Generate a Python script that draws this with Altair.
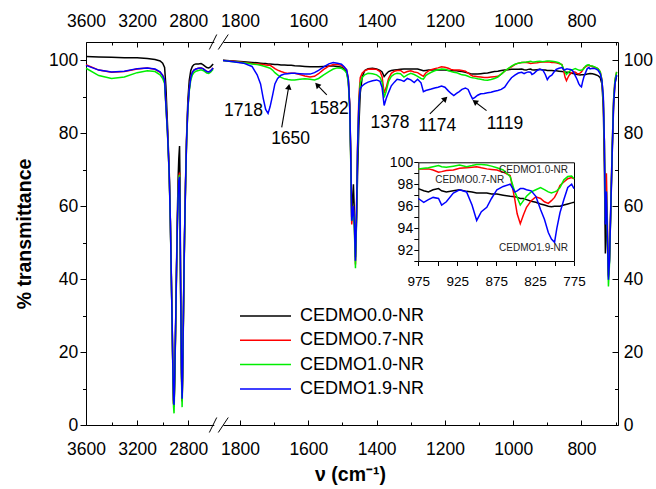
import math
import altair as alt
import pandas as pd

# ---------------------------------------------------------------- data
SERIES = ["CEDMO0.0-NR", "CEDMO0.7-NR", "CEDMO1.0-NR", "CEDMO1.9-NR"]
COLORS = ["#000000", "#ff0000", "#00ee00", "#0000ff"]

WN_LEFT = [3600, 3500, 3400, 3300, 3200, 3120, 3060, 3020, 3000, 2985,
           2975, 2962, 2949, 2940, 2933, 2926, 2920, 2915, 2911, 2905,
           2898, 2892, 2885, 2879, 2874, 2868, 2864, 2861, 2857, 2853,
           2848, 2844, 2840, 2835, 2829, 2821, 2813, 2803, 2792, 2780,
           2768, 2755, 2740, 2720, 2700, 2685, 2670, 2655, 2640, 2625, 2605]
T00_LEFT = [101.0, 100.9, 100.8, 100.7, 100.7, 100.5, 100.2, 99.8, 99.2, 98.0,
            93.0, 82.0, 70.0, 56.5, 42.5, 28.0, 14.5, 6.0, 5.0, 14.0,
            29.0, 43.0, 58.0, 68.0, 73.0, 76.5, 66.0, 46.0, 29.0, 15.0,
            6.5, 13.5, 24.0, 38.0, 52.0, 67.0, 79.0, 89.0, 94.5, 97.2,
            98.3, 98.8, 99.0, 99.0, 99.1, 98.8, 98.4, 98.0, 97.9, 98.2, 99.0]
T07_LEFT = [98.8, 97.3, 96.7, 96.9, 97.6, 97.9, 97.5, 96.7, 95.9, 94.3,
            88.0, 80.0, 69.0, 56.0, 42.0, 28.0, 14.5, 6.0, 5.0, 14.0,
            28.0, 41.5, 55.0, 64.0, 68.0, 69.2, 60.0, 42.0, 27.0, 14.0,
            6.5, 13.0, 23.0, 37.0, 51.0, 66.0, 78.0, 87.0, 92.0, 95.3,
            96.7, 97.3, 97.6, 97.8, 97.9, 97.7, 97.3, 96.9, 96.8, 97.1, 97.9]
T10_LEFT = [97.8, 95.8, 95.0, 95.4, 96.6, 97.1, 96.9, 96.0, 95.0, 93.6,
            87.5, 79.5, 68.5, 55.5, 41.5, 27.5, 13.5, 5.0, 3.2, 13.0,
            27.5, 41.0, 54.5, 63.5, 67.5, 68.6, 59.5, 41.5, 26.5, 13.0,
            4.9, 12.5, 22.5, 36.5, 50.5, 65.5, 77.5, 86.5, 91.5, 94.6,
            95.9, 96.6, 97.0, 97.2, 97.4, 97.2, 96.9, 96.5, 96.4, 96.7, 97.5]
T19_LEFT = [98.6, 97.3, 96.8, 97.0, 97.7, 97.9, 97.6, 96.8, 95.8, 94.6,
            88.0, 80.0, 69.0, 56.0, 42.0, 28.0, 15.0, 7.0, 5.5, 15.0,
            29.0, 42.0, 55.0, 63.0, 67.0, 68.0, 60.0, 43.0, 29.0, 16.0,
            7.2, 14.0, 24.0, 38.0, 52.0, 66.0, 78.0, 87.0, 92.0, 95.3,
            96.7, 97.3, 97.6, 97.8, 97.9, 97.7, 97.3, 96.9, 96.8, 97.1, 97.9]

WN_RIGHT = [1850, 1820, 1790, 1765, 1750, 1740, 1732, 1725, 1718, 1712,
            1705, 1698, 1690, 1680, 1670, 1660, 1650, 1640, 1625, 1610,
            1595, 1582, 1570, 1555, 1540, 1527, 1515, 1503, 1495, 1488,
            1483, 1479, 1476, 1473, 1470, 1468, 1465, 1462, 1459, 1456,
            1452, 1448, 1442, 1435, 1425, 1412, 1400, 1390, 1384, 1378,
            1372, 1365, 1357, 1348, 1340, 1330, 1320, 1310, 1300, 1290,
            1280, 1270, 1263, 1256, 1248, 1240, 1230, 1220, 1210, 1200,
            1190, 1182, 1174, 1166, 1158, 1150, 1140, 1132, 1125, 1119,
            1112, 1104, 1095, 1085, 1075, 1065, 1055, 1045, 1035, 1025,
            1015, 1005, 995, 985, 975, 968, 962, 956, 949, 945,
            939, 930, 922, 913, 906, 900, 894, 887, 881, 874,
            866, 857, 851, 848, 844, 840, 836, 830, 824, 818,
            813, 808, 804, 800, 797, 793, 788, 783, 778, 775,
            768, 760, 752, 745, 740, 736, 733, 730, 727, 724,
            721, 718, 714, 710, 706, 702, 697]
T00_RIGHT = [100.0, 99.8, 99.6, 99.4, 99.3, 99.2, 99.1, 99.1, 99.0, 98.95,
             98.9, 98.8, 98.8, 98.7, 98.7, 98.6, 98.6, 98.5, 98.4, 98.3,
             98.2, 98.2, 98.2, 98.3, 98.4, 98.4, 98.3, 98.1, 97.6, 96.8,
             94.5, 88.0, 76.0, 57.0, 62.0, 66.0, 58.0, 46.0, 55.0, 68.0,
             82.0, 91.0, 95.5, 97.2, 97.7, 97.8, 97.6, 97.2, 96.8, 95.5,
             96.2, 96.9, 97.2, 97.3, 97.4, 97.5, 97.6, 97.6, 97.6, 97.6,
             97.6, 97.3, 97.1, 97.2, 97.3, 97.3, 97.3, 97.3, 97.3, 97.3,
             97.2, 97.1, 97.1, 97.1, 97.0, 96.9, 96.7, 96.5, 96.3, 96.2,
             96.2, 96.2, 96.3, 96.4, 96.5, 96.7, 96.9, 97.0, 97.2, 97.3,
             97.4, 97.5, 97.5, 97.5, 97.6, 97.4, 97.3, 97.5, 97.6, 97.4,
             97.3, 97.4, 97.5, 97.35, 97.3, 97.2, 97.2, 97.2, 97.1, 97.1,
             97.0, 96.9, 96.85, 96.8, 96.7, 96.7, 96.6, 96.45, 96.35, 96.2,
             96.1, 96.0, 95.95, 96.0, 96.0, 96.0, 96.1, 96.2, 96.3, 96.35,
             96.3, 96.1, 95.8, 95.2, 93.5, 87.0, 72.0, 47.0, 60.0, 50.0,
             41.0, 45.0, 59.0, 74.0, 87.0, 93.5, 95.8]
T07_RIGHT = [99.9, 99.7, 99.4, 99.1, 99.0, 98.9, 98.8, 98.7, 98.6, 98.6,
             98.2, 97.7, 97.3, 96.9, 96.6, 96.4, 96.4, 96.4, 96.1, 95.7,
             95.4, 95.6, 96.3, 97.5, 98.4, 98.8, 98.8, 98.6, 98.0, 97.4,
             95.0, 88.0, 74.0, 55.0, 58.0, 60.0, 54.0, 44.0, 58.0, 76.0,
             90.0, 95.2, 96.5, 97.1, 97.5, 97.6, 97.5, 96.9, 95.5, 91.0,
             92.5, 95.0, 96.4, 97.0, 97.2, 97.2, 96.5, 96.9, 97.1, 96.8,
             96.6, 96.0, 95.6, 96.5, 97.1, 97.4, 97.7, 97.9, 98.2, 98.1,
             97.8, 97.5, 97.3, 97.3, 97.3, 97.2, 97.0, 96.5, 96.0, 95.7,
             95.6, 95.5, 95.4, 95.3, 95.3, 95.4, 95.5, 95.6, 96.2, 97.0,
             97.6, 98.2, 98.8, 99.2, 99.4, 99.4, 99.4, 99.3, 99.1, 99.15,
             99.25, 99.3, 99.45, 99.5, 99.55, 99.6, 99.5, 99.4, 99.35, 99.3,
             99.1, 98.8, 96.6, 95.3, 94.4, 95.2, 95.9, 96.5, 96.85, 96.7,
             96.4, 96.25, 96.5, 96.8, 97.2, 97.9, 98.2, 98.5, 98.6, 98.5,
             98.3, 98.0, 97.7, 96.8, 94.6, 89.0, 78.0, 57.0, 69.0, 55.0,
             40.5, 46.0, 61.0, 76.0, 89.0, 94.5, 96.8]
T10_RIGHT = [99.9, 99.6, 99.3, 99.0, 98.8, 98.6, 98.4, 98.2, 98.0, 97.8,
             97.3, 96.6, 96.0, 95.3, 94.9, 94.7, 94.6, 94.6, 94.8, 94.9,
             94.8, 94.6, 95.0, 96.0, 96.9, 97.6, 97.9, 97.8, 97.3, 96.5,
             94.0, 87.0, 73.0, 56.0, 57.0, 59.0, 53.0, 43.0, 57.0, 74.0,
             88.0, 93.8, 95.3, 96.0, 96.4, 96.3, 96.0, 95.3, 94.0, 89.8,
             91.5, 94.2, 95.6, 96.2, 96.4, 96.3, 95.4, 96.0, 96.4, 96.1,
             95.6, 95.0, 94.8, 95.8, 96.3, 96.7, 97.1, 97.4, 97.6, 97.5,
             97.2, 96.9, 96.7, 96.6, 96.3, 96.0, 95.9, 95.6, 95.3, 95.2,
             95.1, 94.9, 94.8, 94.6, 94.5, 94.7, 95.0, 95.4, 96.2, 97.0,
             97.7, 98.4, 98.9, 99.2, 99.4, 99.45, 99.5, 99.6, 99.7, 99.6,
             99.55, 99.65, 99.75, 99.6, 99.7, 99.8, 99.8, 99.75, 99.65, 99.5,
             99.3, 98.7, 97.3, 96.8, 96.1, 96.5, 96.9, 97.3, 97.5, 97.7,
             97.5, 97.3, 97.2, 97.3, 97.4, 97.7, 98.4, 98.7, 98.75, 98.5,
             98.4, 98.1, 97.7, 96.8, 94.5, 89.0, 78.0, 56.0, 64.0, 52.0,
             38.0, 44.0, 60.0, 76.0, 89.0, 94.5, 96.8]
T19_RIGHT = [99.9, 99.6, 99.2, 98.3, 96.0, 93.5, 89.5, 86.5, 85.4, 87.3,
             90.3, 93.5, 95.0, 95.9, 96.2, 96.3, 96.4, 96.4, 96.3, 96.2,
             96.2, 96.6, 97.2, 98.2, 99.0, 99.4, 99.2, 98.9, 98.2, 97.4,
             95.0, 88.0, 75.0, 56.0, 58.0, 60.0, 55.0, 45.0, 58.0, 75.0,
             88.0, 92.3, 93.0, 93.5, 94.0, 94.4, 94.6, 94.2, 92.5, 87.6,
             89.5, 91.2, 93.0, 94.0, 94.8, 94.6, 94.2, 95.0, 94.6, 93.9,
             94.8, 93.8, 91.4, 91.7, 91.9, 92.1, 92.4, 92.6, 92.9, 92.6,
             91.6, 90.9, 90.3, 90.9, 91.4, 92.0, 92.4, 92.0, 90.5, 89.4,
             89.8, 90.4, 90.8, 90.9, 91.1, 91.2, 91.5, 91.7, 92.0, 92.6,
             94.0, 95.2, 95.9, 96.5, 96.7, 96.35, 96.6, 96.8, 96.7, 96.1,
             96.4, 97.2, 97.5, 97.3, 96.1, 94.7, 95.5, 95.9, 96.7, 97.5,
             97.8, 98.0, 97.3, 97.4, 97.6, 97.6, 97.5, 97.4, 96.9, 95.7,
             94.8, 93.6, 93.0, 92.7, 94.0, 95.4, 96.6, 97.7, 98.0, 97.6,
             97.8, 97.7, 97.3, 96.3, 94.3, 90.0, 78.0, 55.0, 64.0, 52.0,
             39.8, 45.0, 60.0, 75.0, 88.0, 93.5, 96.0]

PEAK_LABELS = ["1718", "1650", "1582", "1378", "1174", "1119"]
PEAK_LABEL_W = [1790, 1652, 1539, 1361, 1222, 1024]
PEAK_LABEL_T = [86.2, 78.3, 86.6, 82.9, 82.0, 82.5]

ARROW_TAIL_W = [1678, 1546, 1244, 1078]
ARROW_TAIL_T = [81.6, 90.5, 85.3, 86.2]
ARROW_HEAD_W = [1656, 1580, 1193, 1119]
ARROW_HEAD_T = [93.5, 93.8, 90.0, 89.1]

INSET_LABELS = ["CEDMO1.0-NR", "CEDMO0.7-NR", "CEDMO1.9-NR"]
INSET_LABEL_W = [827, 909, 827]
INSET_LABEL_T = [99.3, 98.4, 92.15]

# axis break marks, in units of the left x axis / main y axis
BREAK_W1 = [2635, 2565]
BREAK_W2 = [2577, 2487]

X_TITLE = "\u03bd (cm\u207b\u00b9)"
Y_TITLE = "% transmittance"

# ---------------------------------------------------------------- layout
FONT = "Liberation Sans"
W, H = 532, 383
XL_DOMAIN, XL_RANGE = [3600, 2600], [0, 127.8]
XR_DOMAIN, XR_RANGE = [1850, 693], [137, 532]
Y_DOMAIN = [0, 105]
IX_DOMAIN, IX_RANGE = [975, 775], [332.3, 488]
IY_DOMAIN, IY_RANGE = [91, 100], [219, 120.3]
BREAK_HALF = 7.5 * (Y_DOMAIN[1] - Y_DOMAIN[0]) / H


def sc(kind):
    if kind == "xl":
        return alt.Scale(domain=XL_DOMAIN, range=XL_RANGE, nice=False, zero=False)
    if kind == "xr":
        return alt.Scale(domain=XR_DOMAIN, range=XR_RANGE, nice=False, zero=False)
    if kind == "ix":
        return alt.Scale(domain=IX_DOMAIN, range=IX_RANGE, nice=False, zero=False)
    if kind == "iy":
        return alt.Scale(domain=IY_DOMAIN, range=IY_RANGE, nice=False, zero=False)
    return alt.Scale(domain=Y_DOMAIN, nice=False, zero=False)


def axis(orient, values, tick, inward=False, labels=False, domain=False,
         pad=0, fs=17.5, **kw):
    args = dict(orient=orient, values=values, grid=False, domain=domain,
                labels=labels, ticks=tick > 0, labelFlush=False,
                labelOverlap=False, title=None, format="d")
    if tick > 0:
        args["tickSize"] = {"expr": str(-tick)} if inward else tick
    if labels:
        args["labelPadding"] = pad
        args["labelFontSize"] = fs
    args.update(kw)
    return alt.Axis(**args)


def long_df(wn, cols):
    rows = []
    for name, vals in zip(SERIES, cols):
        assert len(vals) == len(wn), (name, len(vals), len(wn))
        for w, v in zip(wn, vals):
            rows.append({"wn": w, "T": v, "sample": name})
    return pd.DataFrame(rows)


df_left = long_df(WN_LEFT, [T00_LEFT, T07_LEFT, T10_LEFT, T19_LEFT])
df_right = long_df(WN_RIGHT, [T00_RIGHT, T07_RIGHT, T10_RIGHT, T19_RIGHT])
df_inset = df_right[(df_right.wn <= IX_DOMAIN[0]) & (df_right.wn >= IX_DOMAIN[1])]

LEGEND = alt.Legend(orient="none", legendX=153, legendY=265, title=None,
                    symbolType="stroke", symbolSize=2601, symbolStrokeWidth=1.5,
                    clipHeight=18, rowPadding=6.3, labelFontSize=18,
                    labelFont=FONT, labelColor="black", labelOffset=8,
                    padding=0)
COLOR = alt.Color("sample:N", scale=alt.Scale(domain=SERIES, range=COLORS),
                  legend=LEGEND)


def lines(df, xs, ys, xaxis=None, yaxis=None):
    return alt.Chart(df).mark_line(strokeWidth=1.5).encode(
        x=alt.X("wn:Q", scale=sc(xs), axis=xaxis),
        y=alt.Y("T:Q", scale=sc(ys), axis=yaxis),
        color=COLOR,
        detail="sample:N",
    )


def ghost(xs, ys, xaxis=None, yaxis=None):
    d = pd.DataFrame({"wn": [sc(xs).domain[0]], "T": [sc(ys).domain[0]]})
    return alt.Chart(d).mark_point(opacity=0).encode(
        x=alt.X("wn:Q", scale=sc(xs), axis=xaxis),
        y=alt.Y("T:Q", scale=sc(ys), axis=yaxis),
    )


XL_MAJ, XL_MIN = [3600, 3200, 2800], [3400, 3000]
XR_MAJ, XR_MIN = [1800, 1600, 1400, 1200, 1000, 800], [1700, 1500, 1300, 1100, 900, 700]
Y_MAJ, Y_MIN = [0, 20, 40, 60, 80, 100], [10, 30, 50, 70, 90]
IX_TICKS = [975, 950, 925, 900, 875, 850, 825, 800, 775]
IY_TICKS = [91, 92, 93, 94, 95, 96, 97, 98, 99, 100]

layers = []
# left segment + main y axes
layers.append(ghost(
    "xl", "y",
    axis("bottom", XL_MAJ, 5, inward=True, labels=True, domain=True, pad=20.2,
         title=X_TITLE, titleX=264, titleY=55, titleAlign="center",
         titleBaseline="alphabetic", titleFontSize=19.5, titleFontWeight="bold"),
    axis("left", Y_MAJ, 6, labels=True, domain=True, pad=2.3,
         title=Y_TITLE, titleX=-61.5, titleY=191.5, titleAngle=270,
         titleAlign="center", titleBaseline="middle", titleFontSize=19.5,
         titleFontWeight="bold")))
layers.append(ghost("xl", "y", axis("bottom", XL_MIN, 3, inward=True),
                    axis("left", Y_MIN, 3.5)))
layers.append(ghost("xl", "y",
                    axis("top", XL_MAJ, 5, inward=True, labels=True, domain=True, pad=16.6),
                    axis("right", Y_MAJ, 6, inward=True, labels=True, domain=True, pad=11.3)))
layers.append(ghost("xl", "y", axis("top", XL_MIN, 3, inward=True),
                    axis("right", Y_MIN, 3.5, inward=True)))
# right segment axes
layers.append(ghost("xr", "y", axis("bottom", XR_MAJ, 5, inward=True, labels=True,
                                    domain=True, pad=20.2)))
layers.append(ghost("xr", "y", axis("bottom", XR_MIN, 3, inward=True)))
layers.append(ghost("xr", "y", axis("top", XR_MAJ, 5, inward=True, labels=True,
                                    domain=True, pad=16.6)))
layers.append(ghost("xr", "y", axis("top", XR_MIN, 3, inward=True)))
# inset axes (frame)
layers.append(ghost(
    "ix", "iy",
    axis("bottom", IX_TICKS, 4.5, labels=True, domain=True, pad=8.8, fs=13.5,
         offset=-(H - IY_RANGE[0]),
         labelExpr="datum.value % 50 == 25 ? datum.label : ''"),
    axis("left", IY_TICKS, 4.5, labels=True, domain=True, pad=1.1, fs=14,
         offset=-IX_RANGE[0],
         labelExpr="datum.value % 2 == 0 ? datum.label : ''")))
layers.append(ghost("ix", "iy",
                    axis("top", IX_TICKS, 0, domain=True, offset=-IY_RANGE[1]),
                    axis("right", IY_TICKS, 0, domain=True, offset=IX_RANGE[1] - W)))

# spectra
layers.append(lines(df_left, "xl", "y"))
layers.append(lines(df_right, "xr", "y"))
layers.append(lines(df_inset, "ix", "iy"))

# axis break marks
brk = pd.DataFrame({
    "w1": BREAK_W1 * 2, "w2": BREAK_W2 * 2,
    "t1": [Y_DOMAIN[0] - BREAK_HALF] * 2 + [Y_DOMAIN[1] - BREAK_HALF] * 2,
    "t2": [Y_DOMAIN[0] + BREAK_HALF] * 2 + [Y_DOMAIN[1] + BREAK_HALF] * 2,
})
layers.append(alt.Chart(brk).mark_rule(color="black", strokeWidth=1).encode(
    x=alt.X("w1:Q", scale=sc("xl"), axis=None), x2="w2:Q",
    y=alt.Y("t1:Q", scale=sc("y"), axis=None), y2="t2:Q"))

# annotation arrows
KX = (XR_RANGE[1] - XR_RANGE[0]) / (XR_DOMAIN[0] - XR_DOMAIN[1])
KY = H / (Y_DOMAIN[1] - Y_DOMAIN[0])
HEAD_SIZE = 42
HEAD_BACK = math.sqrt(3) / 2 * math.sqrt(HEAD_SIZE) / 2
arr_rows = []
for tw, tt, hw, ht in zip(ARROW_TAIL_W, ARROW_TAIL_T, ARROW_HEAD_W, ARROW_HEAD_T):
    dx = (tw - hw) * KX
    dy = -(ht - tt) * KY
    L = math.hypot(dx, dy)
    ux, uy = dx / L, dy / L
    ang = math.degrees(math.atan2(dx, -dy)) % 360
    arr_rows.append({"tw": tw, "tt": tt, "hw": hw, "ht": ht,
                     "cw": hw + HEAD_BACK * ux / KX, "ct": ht + HEAD_BACK * uy / KY,
                     "ang": ang})
arr = pd.DataFrame(arr_rows)
layers.append(alt.Chart(arr).mark_rule(color="black", strokeWidth=1.1).encode(
    x=alt.X("tw:Q", scale=sc("xr"), axis=None), x2="cw:Q",
    y=alt.Y("tt:Q", scale=sc("y"), axis=None), y2="ct:Q"))
layers.append(alt.Chart(arr).mark_point(shape="triangle-up", filled=True, color="black",
                                        size=HEAD_SIZE, opacity=1).encode(
    x=alt.X("cw:Q", scale=sc("xr"), axis=None),
    y=alt.Y("ct:Q", scale=sc("y"), axis=None),
    angle=alt.Angle("ang:Q", scale=None)))

peaks = pd.DataFrame({"lab": PEAK_LABELS, "wn": PEAK_LABEL_W, "T": PEAK_LABEL_T})
layers.append(alt.Chart(peaks).mark_text(font=FONT, fontSize=17.5, color="black",
                                         align="center", baseline="middle").encode(
    x=alt.X("wn:Q", scale=sc("xr"), axis=None),
    y=alt.Y("T:Q", scale=sc("y"), axis=None),
    text="lab:N"))

ilab = pd.DataFrame({"lab": INSET_LABELS, "wn": INSET_LABEL_W, "T": INSET_LABEL_T})
layers.append(alt.Chart(ilab).mark_text(font=FONT, fontSize=10, color="#222222",
                                        align="center", baseline="middle").encode(
    x=alt.X("wn:Q", scale=sc("ix"), axis=None),
    y=alt.Y("T:Q", scale=sc("iy"), axis=None),
    text="lab:N"))

chart = alt.layer(*layers).resolve_scale(
    x="independent", y="independent"
).properties(
    width=W, height=H,
    autosize=alt.AutoSizeParams(type="none"),
    padding={"left": 86, "top": 42, "right": 38, "bottom": 64},
).configure_view(stroke=None).configure_axis(
    labelFont=FONT, titleFont=FONT, labelColor="black", titleColor="black",
    domainColor="black", tickColor="black", domainWidth=1, tickWidth=1,
)

chart.save("out.html", embed_options={"renderer": "svg", "actions": False})
